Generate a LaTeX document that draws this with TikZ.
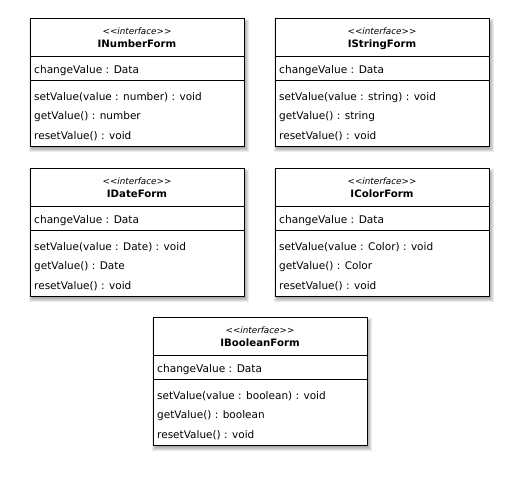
\documentclass[tikz,border=0pt]{standalone}
\usepackage{fontspec}
\setmainfont{DejaVu Sans}
\begin{document}
\begin{tikzpicture}[x=1pt,y=-1pt,
  classbox/.style={draw=black, fill=white, line width=0.9pt, minimum width=214pt, minimum height=128pt, inner sep=0pt, anchor=north west},
  stereo/.style={font=\fontsize{8.8}{11}\selectfont\itshape, inner sep=0pt, anchor=base},
  ctitle/.style={font=\fontsize{10.2}{12}\selectfont\bfseries, inner sep=0pt, anchor=base},
  attr/.style={font=\fontsize{10.6}{12}\selectfont, anchor=base west, inner sep=0pt},
  oper/.style={font=\fontsize{10.5}{13}\selectfont, anchor=base west, inner sep=0pt},
  divider/.style={line width=0.9pt}]
\useasboundingbox[fill=white] (0,0) rectangle (521,479);
\newcommand{\umlclass}[5]{%
 \begin{scope}[shift={(#2,#3)}]
  \foreach \k in {0,...,5}{%
    \fill[black, opacity=0.08] (2-3+\k, 4-3+\k) rectangle (214+2+3-\k, 128+3+3-\k);
  }
  \node[classbox] (#1) at (0,0) {};
  \node[stereo] (#1-st) at (107,16) {<\kern0pt<interface>\kern0pt>};
  \node[ctitle] (#1-t) at (107,29.7) {#4};
  \coordinate (#1-a1) at (0,38); \coordinate (#1-b1) at (214,38);
  \coordinate (#1-a2) at (0,62); \coordinate (#1-b2) at (214,62);
  \draw[divider] (#1-a1) -- (#1-b1);
  \draw[divider] (#1-a2) -- (#1-b2);
  \node[attr] (#1-attr) at (4,55.3) {changeValue : Data};
  \node[oper] (#1-o1) at (4,82.7) {setValue(value : #5) : void};
  \node[oper] (#1-o2) at (4,101.8) {getValue() : #5};
  \node[oper] (#1-o3) at (4,121) {resetValue() : void};
 \end{scope}}
\umlclass{num}{30}{18}{INumberForm}{number}
\umlclass{str}{275}{18}{IStringForm}{string}
\umlclass{date}{30}{168}{IDateForm}{Date}
\umlclass{color}{275}{168}{IColorForm}{Color}
\umlclass{bool}{153}{317}{IBooleanForm}{boolean}
\end{tikzpicture}
\end{document}
